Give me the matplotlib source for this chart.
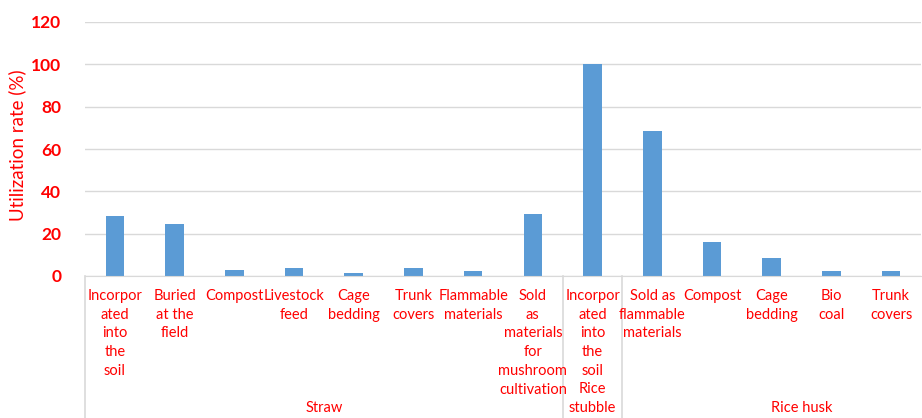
import matplotlib
matplotlib.use("Agg")
import matplotlib.pyplot as plt
import numpy as np

plt.rcParams['font.family'] = ['Lato', 'DejaVu Sans']

# Data
categories = [
    "Incorpor\nated\ninto\nthe\nsoil", "Buried\nat the\nfield", "Compost", "Livestock\nfeed",
    "Cage\nbedding", "Trunk\ncovers", "Flammable\nmaterials",
    "Sold\nas\nmaterials\nfor\nmushroom\ncultivation",
    "Incorpor\nated\ninto\nthe\nsoil",
    "Sold as\nflammable\nmaterials", "Compost", "Cage\nbedding", "Bio\ncoal", "Trunk\ncovers",
]
values = [28.3, 24.6, 2.8, 3.6, 1.6, 3.6, 2.5, 29.4, 100, 68.6, 15.9, 8.7, 2.5, 2.5]
group_names = ["Straw", "Rice\nstubble", "Rice husk"]
group_sizes = [8, 1, 6]
y_ticks = [0, 20, 40, 60, 80, 100, 120]

RED = "#FF0000"
BLUE = "#5B9BD5"
GRID = "#D9D9D9"
LABEL_FS = 10.5
LINE_PITCH = 18.7      # px between label lines
FIRST_BASELINE = 300   # px from top of figure

W, H = 922, 418
fig = plt.figure(figsize=(W / 100, H / 100), dpi=100)
ax_left, ax_right, ax_top, ax_bottom = 85, 921, 22, 276
ax = fig.add_axes([ax_left / W, 1 - ax_bottom / H, (ax_right - ax_left) / W, (ax_bottom - ax_top) / H])

x = np.arange(len(values))
ax.bar(x, values, width=0.31, color=BLUE, zorder=3)

ax.set_xlim(-0.5, len(values) - 0.5)
ax.set_ylim(0, 120)
ax.set_yticks(y_ticks)
ax.set_yticklabels([str(t) for t in y_ticks], color=RED, fontsize=12.5, fontweight="bold")
ax.tick_params(axis="y", length=0, pad=17)
ax.set_xticks([])
ax.grid(axis="y", color=GRID, linewidth=1, zorder=0)
for s in ["top", "right", "left"]:
    ax.spines[s].set_visible(False)
ax.spines["bottom"].set_color(GRID)
ax.spines["bottom"].set_zorder(4)

axh = ax_bottom - ax_top
ax.set_ylabel("Utilization rate (%)", color=RED, fontsize=13.5)
ax.yaxis.set_label_coords(-59 / (ax_right - ax_left), (ax_bottom - 145) / axh)

trans = ax.get_xaxis_transform()


def px_to_axes(ypx):
    return -(ypx - ax_bottom) / axh


def draw_lines(xc, lines, first_baseline):
    for i, line in enumerate(lines):
        ax.text(xc, px_to_axes(first_baseline + i * LINE_PITCH), line, transform=trans,
                ha="center", va="baseline", color=RED, fontsize=LABEL_FS, clip_on=False)


# Category labels
for xi, lab in zip(x, categories):
    draw_lines(xi, lab.split("\n"), FIRST_BASELINE)

# Group labels and separators
edges = np.concatenate([[0], np.cumsum(group_sizes)]) - 0.5
for e in edges:
    ax.plot([e, e], [0, px_to_axes(H)], transform=trans, color=GRID, linewidth=1.2, clip_on=False)
last_baseline = 412
for name, lo, hi in zip(group_names, edges[:-1], edges[1:]):
    lines = name.split("\n")
    draw_lines((lo + hi) / 2, lines, last_baseline - (len(lines) - 1) * LINE_PITCH)

fig.savefig("out.png", dpi=100)
